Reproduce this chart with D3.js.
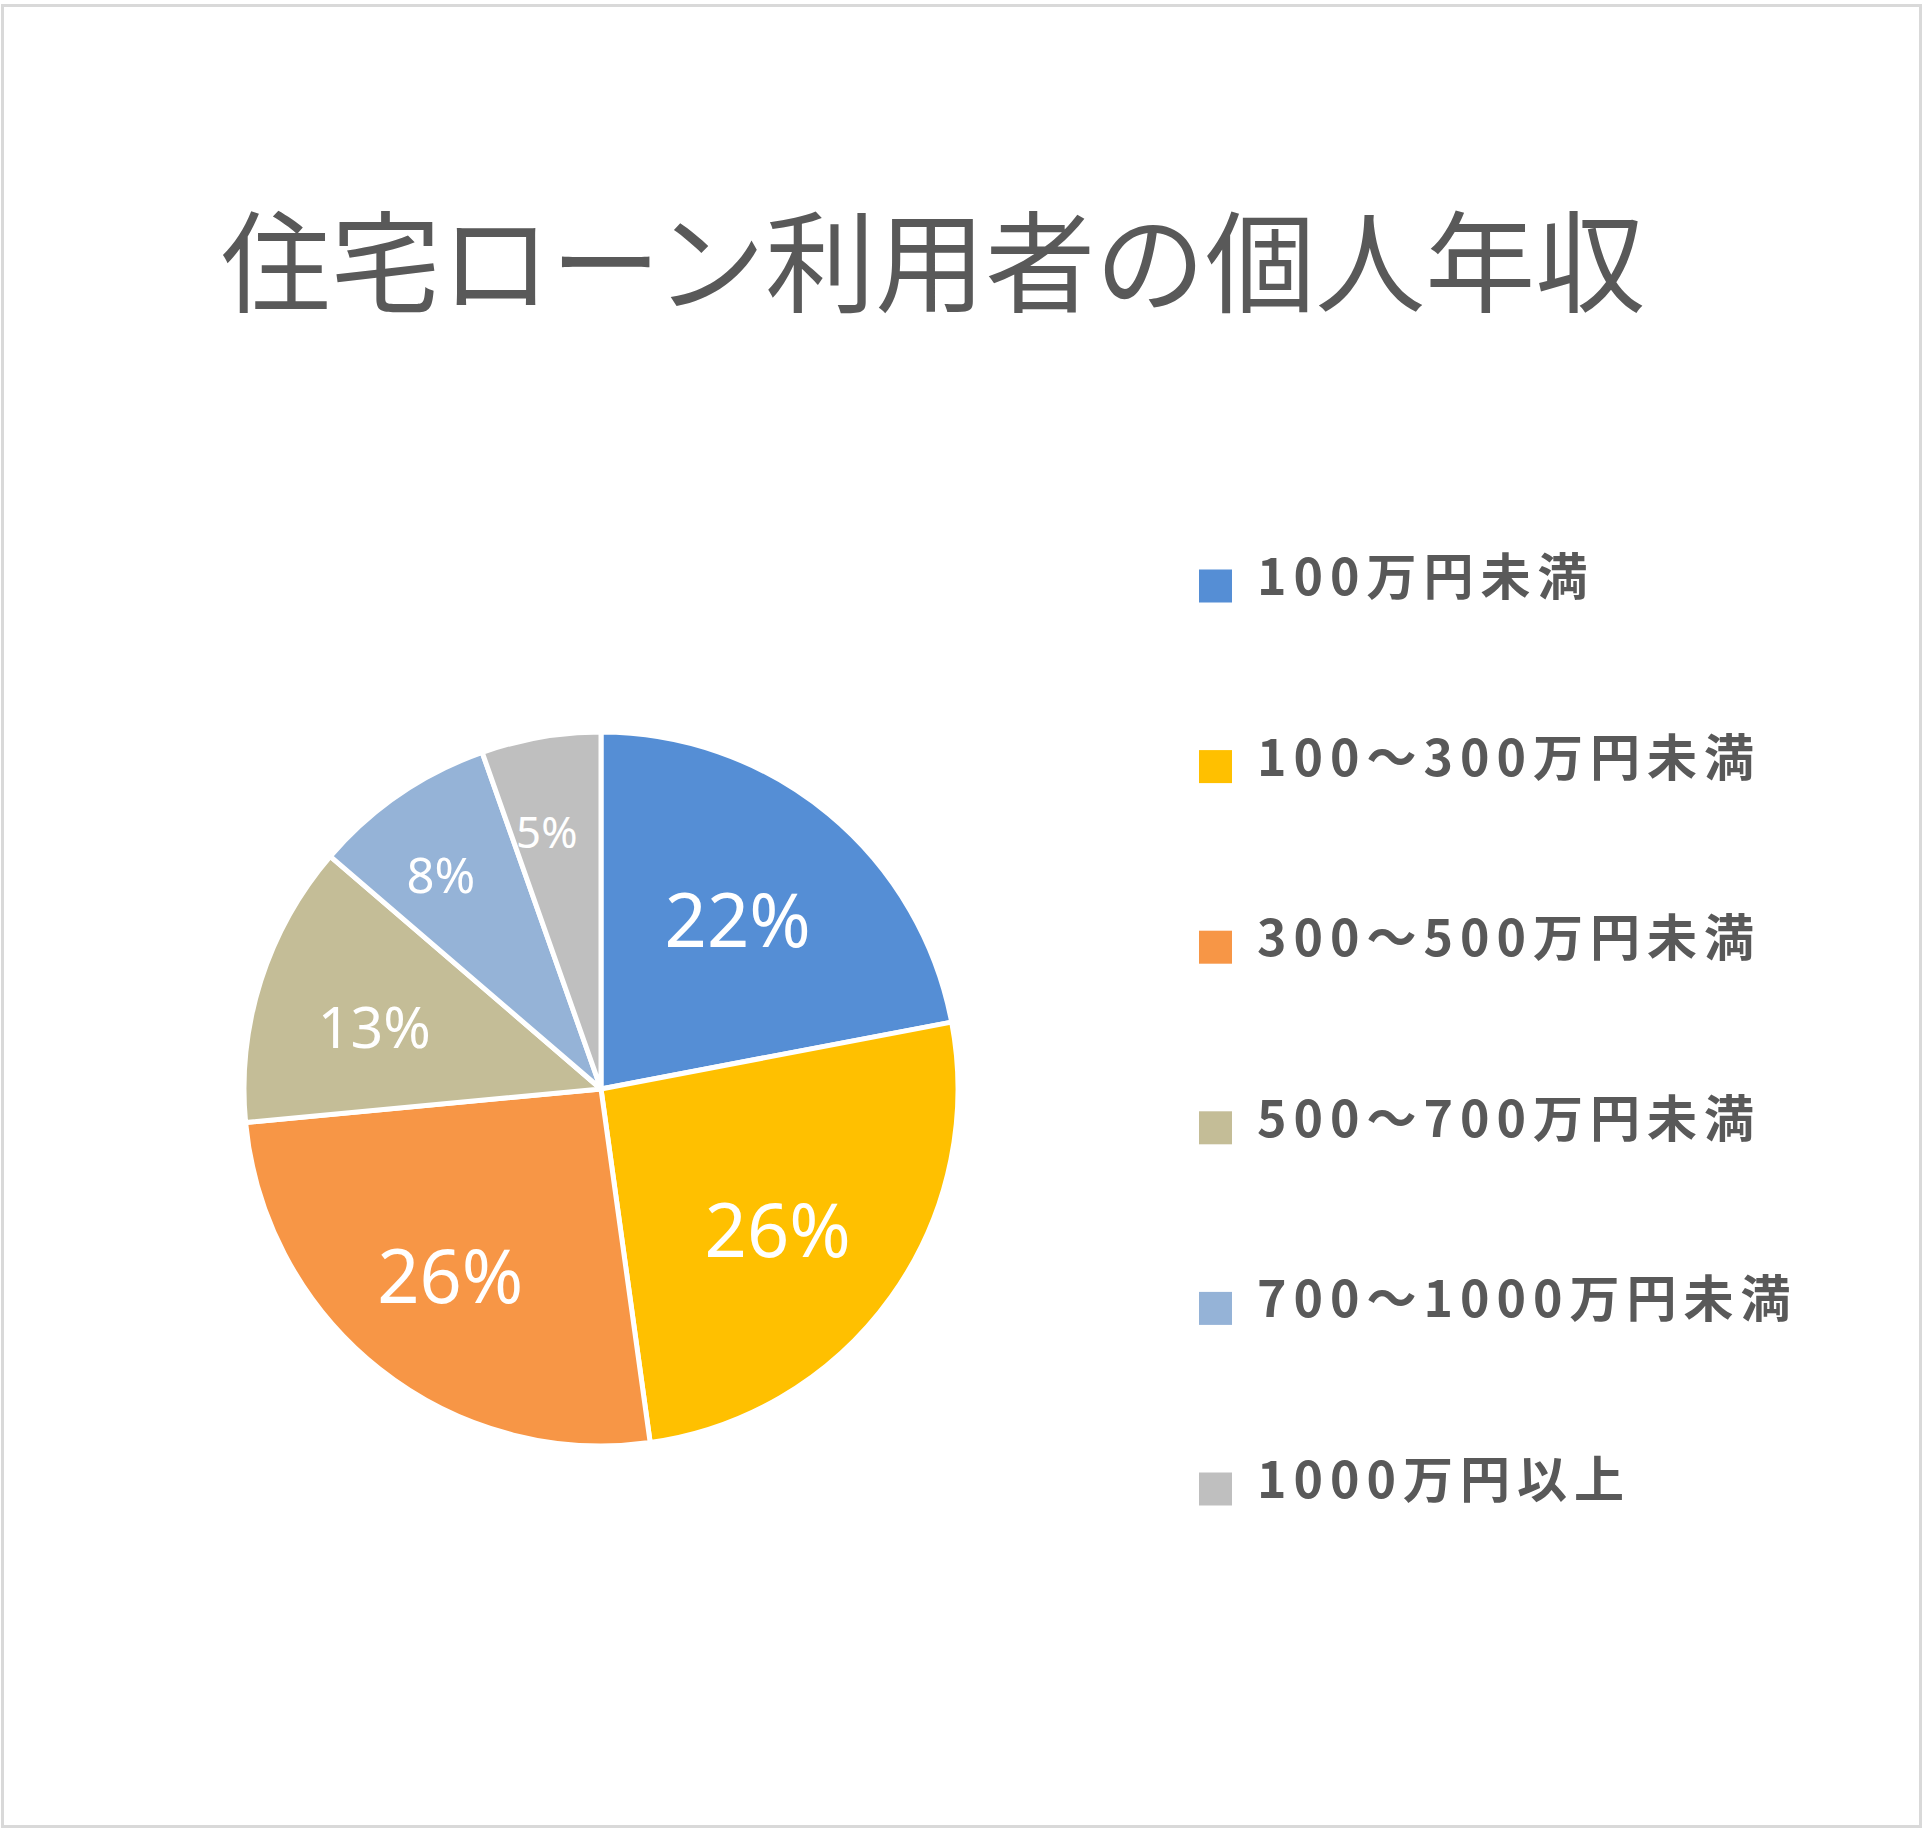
<!DOCTYPE html>
<html>
<head>
<meta charset="utf-8">
<script src="https://cdn.jsdelivr.net/npm/d3@7"></script>
<style>
  html, body { margin: 0; padding: 0; background: #ffffff; }
  svg { display: block; }
</style>
</head>
<body>
<script>
const titleText = "住宅ローン利用者の個人年収";
const categories = ["100万円未満", "100～300万円未満", "300～500万円未満", "500～700万円未満", "700～1000万円未満", "1000万円以上"];
const shares = [22.0, 25.8, 25.7, 12.8, 8.3, 5.4];
const colors = ["#558ED5", "#FFC000", "#F79646", "#C4BD97", "#95B3D7", "#BFBFBF"];

const W = 1925, H = 1833;
const svg = d3.select("body").append("svg").attr("width", W).attr("height", H);

// frame
svg.append("rect")
  .attr("x", 2.5).attr("y", 5.5).attr("width", 1918).attr("height", 1821)
  .attr("fill", "#ffffff").attr("stroke", "#d9d9d9").attr("stroke-width", 3);

// title
svg.append("text")
  .attr("x", 933).attr("y", 256)
  .attr("text-anchor", "middle")
  .attr("dominant-baseline", "central")
  .attr("font-family", "'Noto Sans CJK JP', sans-serif")
  .attr("font-size", 110)
  .attr("fill", "#595959")
  .text(titleText);

// pie
const cx = 601, cy = 1089, R = 357;
const data = categories.map((c, i) => ({ cat: c, value: shares[i], color: colors[i] }));
const pie = d3.pie().value(d => d.value).sort(null);
const arc = d3.arc().innerRadius(0).outerRadius(R);
const arcs = pie(data);

const g = svg.append("g").attr("transform", `translate(${cx},${cy})`);
g.selectAll("path.slice").data(arcs).enter().append("path")
  .attr("class", "slice")
  .attr("d", arc)
  .attr("fill", d => d.data.color)
  .attr("stroke", "#ffffff")
  .attr("stroke-width", 5)
  .attr("stroke-linejoin", "round");

const sizeScale = d3.scaleLinear().domain([5, 22]).range([43, 74]).clamp(true);
g.selectAll("text.lbl").data(arcs).enter().append("text")
  .attr("class", "lbl")
  .attr("transform", d => {
    const r = d.data.value < 10 ? R * 0.75 : R * 0.64;
    const a = d3.arc().innerRadius(r).outerRadius(r);
    const [x, y] = a.centroid(d);
    return `translate(${x - 9},${y + 6})`;
  })
  .attr("text-anchor", "middle")
  .attr("dominant-baseline", "central")
  .attr("font-family", "'Noto Sans', Roboto, sans-serif")
  .attr("font-size", d => sizeScale(d.data.value))
  .attr("fill", "#ffffff")
  .text(d => Math.round(d.data.value) + "%");

// legend
const legendY = d3.scalePoint().domain(categories).range([586, 1489]);
const lg = svg.append("g");
const items = lg.selectAll("g.item").data(data).enter().append("g").attr("class", "item")
  .attr("transform", d => `translate(1199,${legendY(d.cat)})`);
items.append("rect")
  .attr("x", 0).attr("y", -16.5).attr("width", 33).attr("height", 33)
  .attr("fill", d => d.color);
items.append("text")
  .attr("x", 58).attr("y", -13)
  .attr("dominant-baseline", "central")
  .attr("font-family", "'Noto Sans CJK JP', sans-serif")
  .attr("font-weight", 700)
  .attr("font-size", 50)
  .attr("letter-spacing", 7)
  .attr("fill", "#595959")
  .text(d => d.cat);
</script>
</body>
</html>
